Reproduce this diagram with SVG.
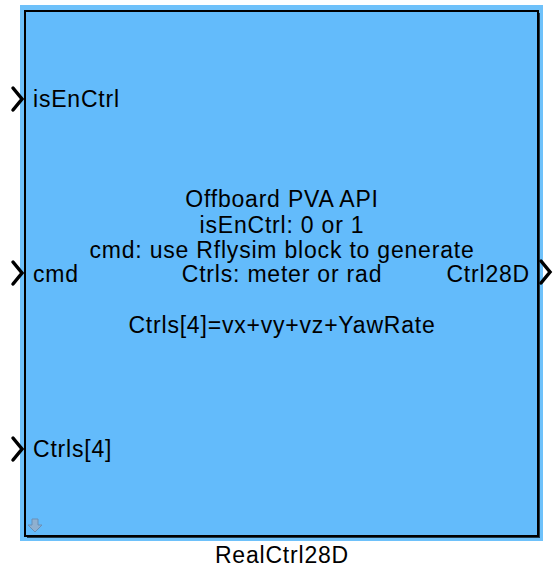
<svg xmlns="http://www.w3.org/2000/svg" width="556" height="570" viewBox="0 0 556 570">
<style>
text{font-family:"Liberation Sans",Arial,sans-serif;font-size:23px;letter-spacing:0.8px;fill:#000}
.c{text-anchor:middle}
.port{fill:none;stroke:#000;stroke-width:3.5;stroke-linecap:round;stroke-linejoin:miter}
</style>
<g id="block">
<rect x="20" y="5" width="523" height="536" fill="#6EC1FA"/>
<rect x="27" y="13" width="513" height="525" fill="#000" opacity="0.7"/>
<rect x="25" y="11" width="513" height="525" fill="#63BBFB" stroke="#000" stroke-width="2"/>
<path d="M32 519h6v6h4l-7 7l-7-7h4z" fill="#8fb0d0" stroke="#6a8fb5" stroke-width="1"/>
<text class="c" x="282" y="207">Offboard PVA API</text>
<text class="c" x="282" y="233">isEnCtrl: 0 or 1</text>
<text class="c" x="282" y="258">cmd: use Rflysim block to generate</text>
<text class="c" x="282" y="282">Ctrls: meter or rad</text>
<text class="c" x="282" y="333">Ctrls[4]=vx+vy+vz+YawRate</text>
<text class="c" x="282" y="563">RealCtrl28D</text>
</g>
<g id="in1">
<path class="port" d="M13 88L22 99L13 110"/>
<text x="33" y="107">isEnCtrl</text>
</g>
<g id="in2">
<path class="port" d="M13 262L22 273L13 284"/>
<text x="33" y="282">cmd</text>
</g>
<g id="in3">
<path class="port" d="M13 438L22 449L13 460"/>
<text x="33" y="457">Ctrls[4]</text>
</g>
<g id="out1">
<path class="port" d="M541 261L550 272L541 283"/>
<text x="530" y="282" text-anchor="end">Ctrl28D</text>
</g>
</svg>
